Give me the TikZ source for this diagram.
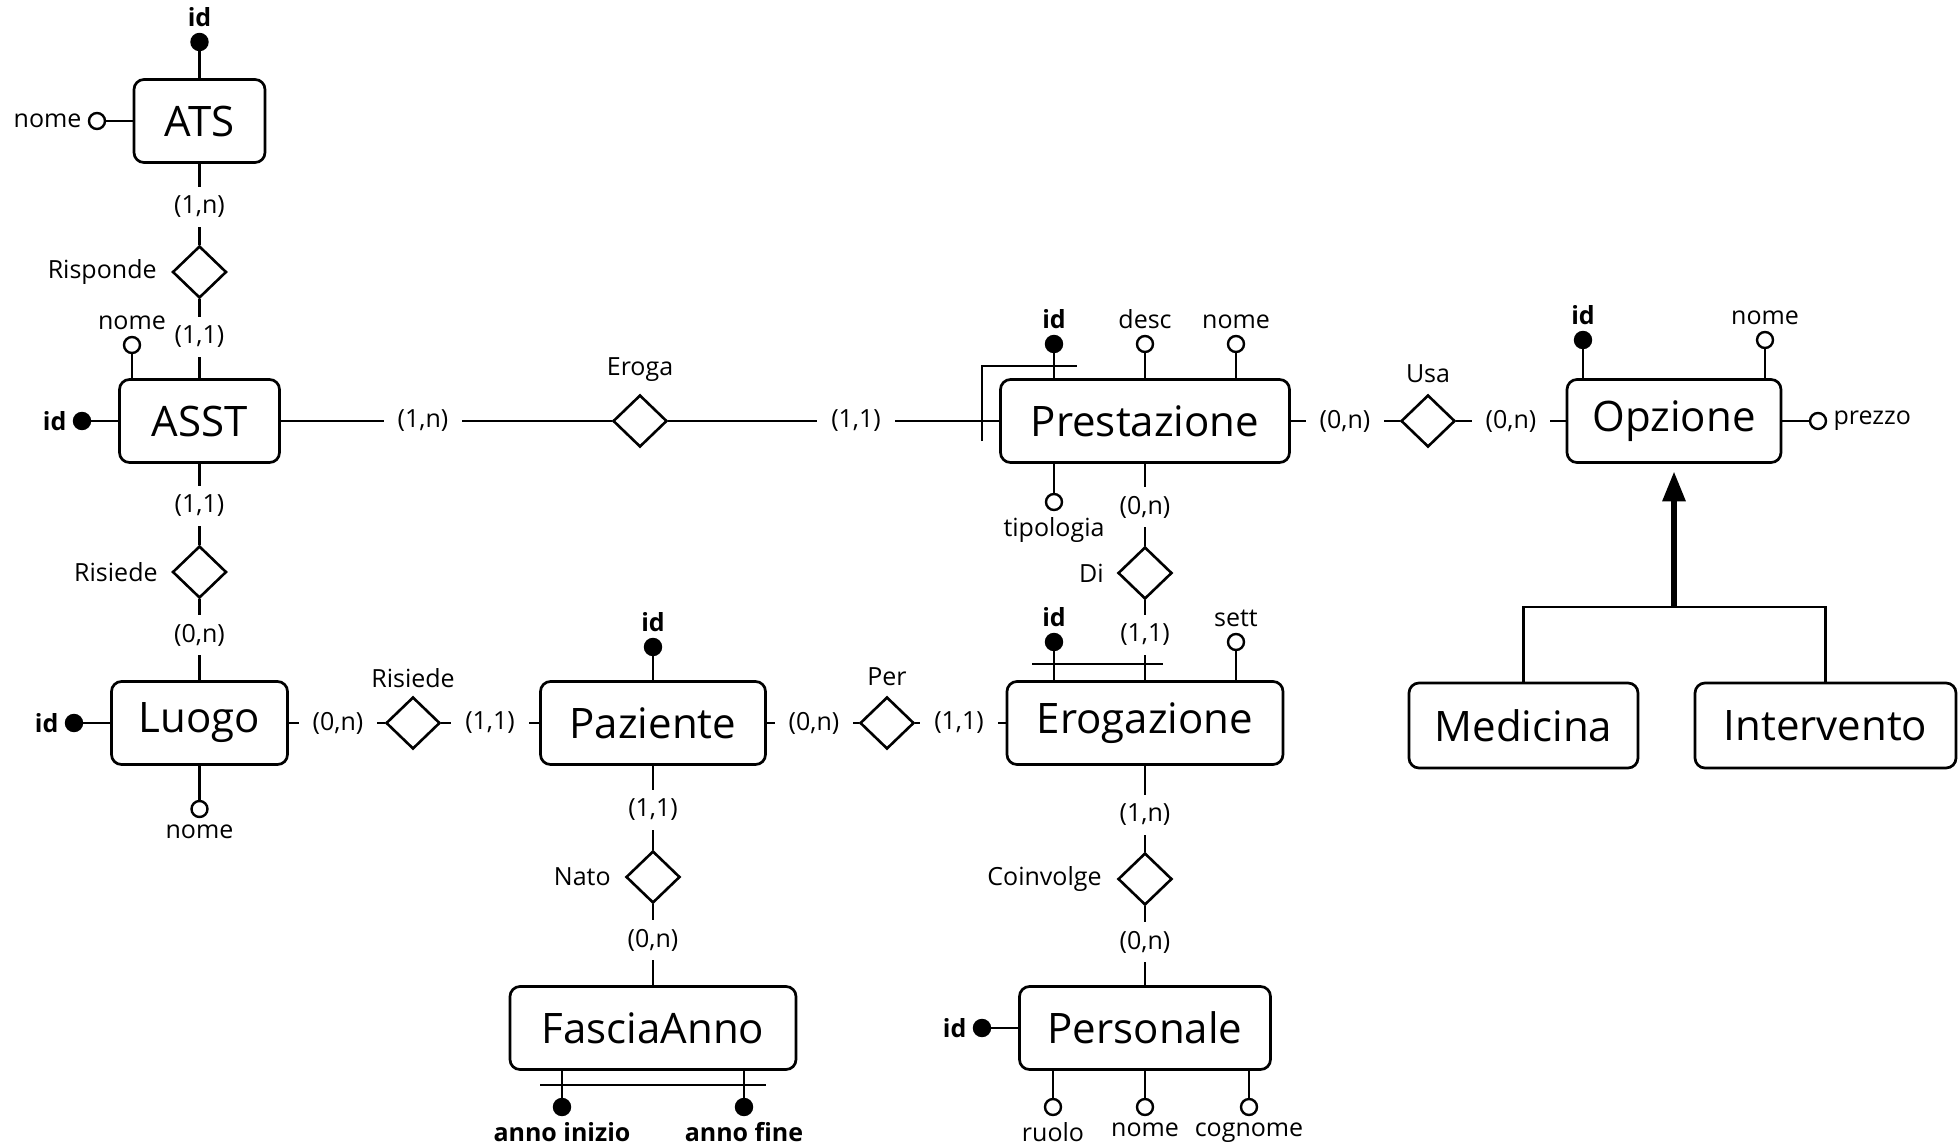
\documentclass[tikz,border=0pt]{standalone}
\usepackage{fontspec}
\setmainfont{Open Sans}
\usetikzlibrary{shapes.geometric,arrows.meta}
\begin{document}
\begin{tikzpicture}[x=0.5pt,y=-0.5pt,
  ent/.style={draw, rounded corners=5pt, line width=1.35pt, minimum height=41.5pt, inner sep=0pt, font=\fontsize{21}{25}\selectfont},
  rel/.style={draw, diamond, aspect=1, inner sep=0pt, minimum width=27pt, minimum height=26pt, line width=1.3pt},
  card/.style={fill=white, inner xsep=7pt, inner ysep=4.5pt, font=\fontsize{12.5}{15}\selectfont},
  lbl/.style={inner sep=1.5pt, font=\fontsize{12.5}{15}\selectfont},
  keylbl/.style={lbl, font=\fontsize{12.5}{15}\selectfont\bfseries},
  attr/.style={draw, circle, line width=1.2pt, minimum size=8pt, inner sep=0pt, fill=white},
  keyattr/.style={attr, fill=black},
  conn/.style={line width=1.3pt},
  isa/.style={line width=3pt, -{Triangle[length=15pt,width=11pt]}, shorten >=3.75pt},
  every label/.style={lbl}, label distance=1.5pt
]
\fill[white] (0,0) rectangle (1959,1146);
\useasboundingbox (0,0) rectangle (1959,1146);

% entities
\node[ent, minimum width=65.5pt] (ATS) at (199.5,121) {ATS};
\node[ent, minimum width=80pt] (ASST) at (199.5,421) {ASST};
\node[ent, minimum width=88pt] (Luogo) at (199.5,723) {Luogo};
\node[ent, minimum width=112.5pt] (Paziente) at (653,723) {Paziente};
\node[ent, minimum width=143pt] (FasciaAnno) at (653,1028) {FasciaAnno};
\node[ent, minimum width=144.5pt] (Prestazione) at (1145,421) {Prestazione};
\node[ent, minimum width=138pt] (Erogazione) at (1145,723) {Erogazione};
\node[ent, minimum width=125.5pt] (Personale) at (1145,1028) {Personale};
\node[ent, minimum width=107pt] (Opzione) at (1674,421) {Opzione};
\node[ent, minimum width=114.5pt, minimum height=42.5pt] (Medicina) at (1523.5,725.5) {Medicina};
\node[ent, minimum width=130.5pt, minimum height=42.5pt] (Intervento) at (1825.5,725.5) {Intervento};

% relationships
\node[rel] (risponde) at (199.5,272) {};
\node[rel] (risiedeA) at (199.5,572) {};
\node[rel] (eroga) at (640,421) {};
\node[rel] (di) at (1145,573) {};
\node[rel] (usa) at (1428,421) {};
\node[rel] (risiedeB) at (413,723) {};
\node[rel] (per) at (887,723) {};
\node[rel] (nato) at (653,877) {};
\node[rel] (coinvolge) at (1145,879) {};

\node[lbl, anchor=east] (lrisponde) at (160,272) {Risponde};
\node[lbl, anchor=east] (lrisiedeA) at (161,572) {Risiede};
\node[lbl] (leroga) at (640,370) {Eroga};
\node[lbl, anchor=east] (ldi) at (1107,573) {Di};
\node[lbl] (lusa) at (1428,374) {Usa};
\node[lbl] (lrisiedeB) at (413,678) {Risiede};
\node[lbl] (lper) at (887,677) {Per};
\node[lbl, anchor=east] (lnato) at (614,877) {Nato};
\node[lbl, anchor=east] (lcoinvolge) at (1105,879) {Coinvolge};

% connectors entity - relationship
\draw[conn] (ATS) -- (risponde);
\draw[conn] (risponde) -- (ASST);
\draw[conn] (ASST) -- (risiedeA);
\draw[conn] (risiedeA) -- (Luogo);
\draw[conn] (ASST) -- (eroga);
\draw[conn] (eroga) -- (Prestazione);
\draw[conn] (Prestazione) -- (usa);
\draw[conn] (usa) -- (Opzione);
\draw[conn] (Prestazione) -- (di);
\draw[conn] (di) -- (Erogazione);
\draw[conn] (Luogo) -- (risiedeB);
\draw[conn] (risiedeB) -- (Paziente);
\draw[conn] (Paziente) -- (per);
\draw[conn] (per) -- (Erogazione);
\draw[conn] (Paziente) -- (nato);
\draw[conn] (nato) -- (FasciaAnno);
\draw[conn] (Erogazione) -- (coinvolge);
\draw[conn] (coinvolge) -- (Personale);

% cardinalities
\node[card] (c1) at (199.5,207) {(1,n)};
\node[card] (c2) at (199.5,337) {(1,1)};
\node[card] (c3) at (199.5,506) {(1,1)};
\node[card] (c4) at (199.5,635) {(0,n)};
\node[card] (c5) at (423,421) {(1,n)};
\node[card] (c6) at (856,421) {(1,1)};
\node[card] (c7) at (1345,421) {(0,n)};
\node[card] (c8) at (1511,421) {(0,n)};
\node[card] (c9) at (1145,507) {(0,n)};
\node[card] (c10) at (1145,635) {(1,1)};
\node[card] (c11) at (338,723) {(0,n)};
\node[card] (c12) at (490,723) {(1,1)};
\node[card] (c13) at (814,723) {(0,n)};
\node[card] (c14) at (959,723) {(1,1)};
\node[card] (c15) at (653,810) {(1,1)};
\node[card] (c16) at (653,940) {(0,n)};
\node[card] (c17) at (1145,815) {(1,n)};
\node[card] (c18) at (1145,942) {(0,n)};

% attributes
\node[keyattr, label={[keylbl]above:id}] (atsid) at (199.5,42) {};
\node[attr, label={left:nome}] (atsnome) at (97,121) {};
\node[attr, label={above:nome}] (asstnome) at (132,345) {};
\node[keyattr, label={[keylbl]left:id}] (asstid) at (82,421) {};
\node[keyattr, label={[keylbl]left:id}] (luogoid) at (74,723) {};
\node[attr, label={below:nome}] (luogonome) at (199.5,809) {};
\node[keyattr, label={[keylbl]above:id}] (pazid) at (653,647) {};
\node[keyattr, label={[keylbl]below:anno inizio}] (annoini) at (562,1107) {};
\node[keyattr, label={[keylbl]below:anno fine}] (annofine) at (744,1107) {};
\node[keyattr, label={[keylbl]above:id}] (prestid) at (1054,344) {};
\node[attr, label={above:desc}] (prestdesc) at (1145,344) {};
\node[attr, label={above:nome}] (prestnome) at (1236,344) {};
\node[attr, label={below:tipologia}] (presttipo) at (1054,502) {};
\node[keyattr, label={[keylbl]above:id}] (erogid) at (1054,642) {};
\node[attr, label={above:sett}] (erogsett) at (1236,642) {};
\node[keyattr, label={[keylbl]left:id}] (persid) at (982,1028) {};
\node[attr, label={below:ruolo}] (persruolo) at (1053,1107) {};
\node[attr, label={below:nome}] (persnome) at (1145,1107) {};
\node[attr, label={below:cognome}] (perscognome) at (1249,1107) {};
\node[keyattr, label={[keylbl]above:id}] (opzid) at (1583,340) {};
\node[attr, label={above:nome}] (opznome) at (1765,340) {};
\node[attr, label={right:prezzo}] (opzprezzo) at (1818,421) {};

\draw[conn] (atsid) -- (ATS);
\draw[conn] (atsnome) -- (ATS);
\draw[conn] (asstnome) -- (asstnome |- ASST.north);
\draw[conn] (asstid) -- (ASST);
\draw[conn] (luogoid) -- (Luogo);
\draw[conn] (luogonome) -- (Luogo);
\draw[conn] (pazid) -- (Paziente);
\draw[conn] (annoini) -- (annoini |- FasciaAnno.south);
\draw[conn] (annofine) -- (annofine |- FasciaAnno.south);
\draw[conn] (prestid) -- (prestid |- Prestazione.north);
\draw[conn] (prestdesc) -- (Prestazione);
\draw[conn] (prestnome) -- (prestnome |- Prestazione.north);
\draw[conn] (presttipo) -- (presttipo |- Prestazione.south);
\draw[conn] (erogid) -- (erogid |- Erogazione.north);
\draw[conn] (erogsett) -- (erogsett |- Erogazione.north);
\draw[conn] (persid) -- (Personale);
\draw[conn] (persruolo) -- (persruolo |- Personale.south);
\draw[conn] (persnome) -- (Personale);
\draw[conn] (perscognome) -- (perscognome |- Personale.south);
\draw[conn] (opzid) -- (opzid |- Opzione.north);
\draw[conn] (opznome) -- (opznome |- Opzione.north);
\draw[conn] (opzprezzo) -- (Opzione);

% identifier bars
\draw[conn] (982,441) -- (982,366) -- (1077,366);
\draw[conn] (1032,664) -- (1163,664);
\draw[conn] (540,1085) -- (766,1085);

% generalization
\coordinate (isaj) at (1674,607);
\draw[conn] (Medicina.north) |- (isaj) -| (Intervento.north);
\draw[isa] (isaj) -- (isaj |- Opzione.south);
\end{tikzpicture}
\end{document}
